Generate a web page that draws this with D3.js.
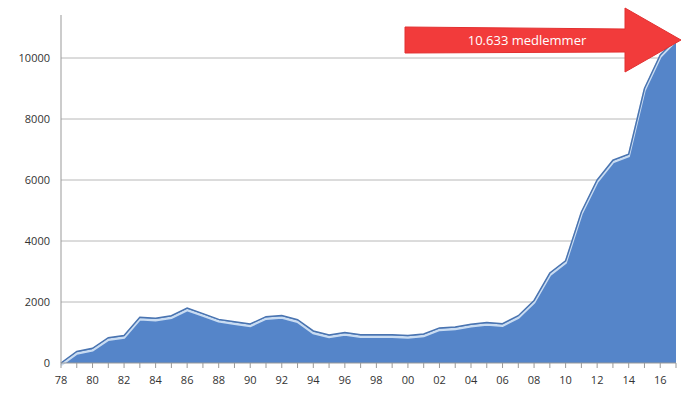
<!DOCTYPE html>
<html><head><meta charset="utf-8">
<script src="https://cdn.jsdelivr.net/npm/d3@7"></script>
<style>body{margin:0;background:#fff}text{font-family:"Open Sans",Arial,sans-serif}</style>
</head><body><svg id="c" width="696" height="410"></svg>
<script>
const years = d3.range(1978, 2018);
const members = [0,380,480,830,900,1500,1470,1550,1800,1620,1430,1350,1280,1520,1560,1420,1050,920,1000,930,930,930,900,950,1150,1180,1270,1330,1290,1550,2050,2950,3350,4950,6000,6650,6850,9000,10100,10633];
const yTicks = [0,2000,4000,6000,8000,10000];
const label = '10.633 medlemmer';

const svg = d3.select('#c');
const x = d3.scaleLinear().domain([1978, 2017]).range([61, 676]);
const y = d3.scaleLinear().domain([0, 10000]).range([363, 58]);

svg.selectAll('.grid').data(yTicks.slice(1)).enter().append('line')
  .attr('x1', 61).attr('x2', 676).attr('y1', d => y(d)).attr('y2', d => y(d))
  .attr('stroke', '#b8b8b8').attr('stroke-width', 1);

svg.selectAll('.yl').data(yTicks).enter().append('text')
  .attr('x', 50).attr('y', d => y(d) + 4).attr('text-anchor', 'end')
  .attr('font-size', 11).attr('fill', '#333').text(d => d);

const data = years.map((yr, i) => [yr, members[i]]);
const area = d3.area().x(d => x(d[0])).y0(y(0)).y1(d => y(d[1]));
const line = d3.line().x(d => x(d[0])).y(d => y(d[1]));

svg.append('path').datum(data).attr('d', area).attr('fill', '#5585c9');
svg.append('path').datum(data).attr('d', line).attr('fill', 'none')
  .attr('stroke', '#c9dcf2').attr('stroke-width', 2.5).attr('transform', 'translate(0,2)');
svg.append('path').datum(data).attr('d', line).attr('fill', 'none')
  .attr('stroke', '#4a74b0').attr('stroke-width', 1.5);

// axes
svg.append('line').attr('x1', 61).attr('x2', 61).attr('y1', 15).attr('y2', 363).attr('stroke', '#999');
svg.append('line').attr('x1', 61).attr('x2', 676).attr('y1', 363).attr('y2', 363).attr('stroke', '#999');
svg.selectAll('.xt').data(years).enter().append('line')
  .attr('x1', d => x(d)).attr('x2', d => x(d)).attr('y1', 363).attr('y2', 368).attr('stroke', '#999');
svg.selectAll('.xl').data(years.filter(d => d % 2 === 0)).enter().append('text')
  .attr('x', d => x(d)).attr('y', 384).attr('text-anchor', 'middle')
  .attr('font-size', 11).attr('fill', '#333').text(d => String(d % 100).padStart(2, '0'));

// arrow
const ax0 = 405, ax1 = 625, tip = 681, cy = 40;
svg.append('path')
  .attr('d', `M${ax0},${cy-13}L${ax1},${cy-11}L${ax1},${cy-32}L${tip},${cy}L${ax1},${cy+32}L${ax1},${cy+12}L${ax0},${cy+13}Z`)
  .attr('fill', '#f23b3b').attr('stroke', '#e23030');
svg.append('text').attr('x', 527).attr('y', cy + 5).attr('text-anchor', 'middle')
  .attr('font-size', 13).attr('fill', '#fff').text(label);
</script></body></html>
